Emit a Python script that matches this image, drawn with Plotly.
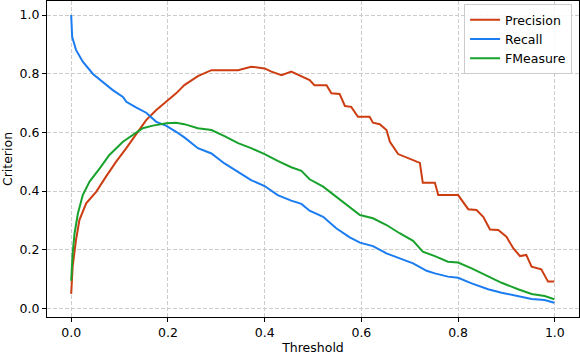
import plotly.graph_objects as go

# ---- data ----
recall_x = [0.0, 0.002, 0.010, 0.024, 0.045, 0.065, 0.086, 0.107, 0.114, 0.134, 0.155, 0.176, 0.197, 0.217, 0.234,
            0.262, 0.290, 0.317, 0.345, 0.372, 0.400, 0.427, 0.455, 0.476, 0.493, 0.521, 0.548, 0.576, 0.597, 0.624,
            0.652, 0.679, 0.707, 0.735, 0.752, 0.779, 0.800, 0.828, 0.862, 0.890, 0.924, 0.952, 0.979, 0.999]
recall_y = [1.0, 0.926, 0.881, 0.841, 0.799, 0.773, 0.744, 0.721, 0.704, 0.685, 0.667, 0.636, 0.622, 0.602, 0.583,
            0.546, 0.528, 0.494, 0.466, 0.437, 0.417, 0.386, 0.367, 0.356, 0.333, 0.312, 0.273, 0.242, 0.224, 0.212,
            0.187, 0.170, 0.153, 0.128, 0.119, 0.108, 0.104, 0.085, 0.065, 0.053, 0.042, 0.032, 0.028, 0.019]

fm_x = [0.0, 0.003, 0.007, 0.014, 0.024, 0.038, 0.059, 0.079, 0.107, 0.127, 0.148, 0.169, 0.197, 0.217, 0.234,
        0.262, 0.290, 0.317, 0.345, 0.372, 0.400, 0.427, 0.455, 0.476, 0.493, 0.521, 0.548, 0.576, 0.597, 0.624,
        0.652, 0.679, 0.707, 0.727, 0.752, 0.779, 0.800, 0.828, 0.862, 0.890, 0.924, 0.952, 0.979, 0.999]
fm_y = [0.094, 0.187, 0.256, 0.324, 0.386, 0.432, 0.477, 0.523, 0.568, 0.591, 0.614, 0.623, 0.631, 0.633, 0.628,
        0.614, 0.608, 0.587, 0.563, 0.546, 0.526, 0.503, 0.481, 0.469, 0.440, 0.415, 0.381, 0.346, 0.318, 0.307,
        0.284, 0.256, 0.230, 0.193, 0.178, 0.159, 0.156, 0.136, 0.108, 0.087, 0.065, 0.049, 0.042, 0.031]

prec_x = [0.0, 0.003, 0.010, 0.017, 0.031, 0.052, 0.072, 0.093, 0.114, 0.134, 0.155, 0.176, 0.197, 0.217, 0.234,
          0.262, 0.290, 0.317, 0.345, 0.372, 0.400, 0.414, 0.435, 0.455, 0.476, 0.493, 0.503, 0.528, 0.538, 0.555,
          0.566, 0.579, 0.593, 0.617, 0.624, 0.638, 0.652, 0.659, 0.676, 0.693, 0.721, 0.727, 0.752, 0.759, 0.800,
          0.821, 0.838, 0.852, 0.866, 0.883, 0.900, 0.914, 0.928, 0.941, 0.952, 0.972, 0.986, 0.999]
prec_y = [0.049, 0.142, 0.233, 0.301, 0.358, 0.398, 0.449, 0.500, 0.546, 0.591, 0.642, 0.676, 0.704, 0.733, 0.761,
          0.792, 0.812, 0.812, 0.812, 0.824, 0.818, 0.807, 0.795, 0.807, 0.792, 0.778, 0.761, 0.761, 0.733, 0.731,
          0.690, 0.687, 0.653, 0.653, 0.633, 0.628, 0.608, 0.568, 0.526, 0.515, 0.496, 0.428, 0.428, 0.386, 0.386,
          0.338, 0.335, 0.312, 0.269, 0.267, 0.244, 0.205, 0.178, 0.182, 0.142, 0.133, 0.091, 0.091]

tick_vals = [0.0, 0.2, 0.4, 0.6, 0.8, 1.0]
tick_text = ["0.0", "0.2", "0.4", "0.6", "0.8", "1.0"]

FONT = "DejaVu Sans"

fig = go.Figure()
fig.add_trace(go.Scatter(x=prec_x, y=prec_y, mode="lines", name="Precision",
                         line=dict(color="#cc3d11", width=2)))
fig.add_trace(go.Scatter(x=recall_x, y=recall_y, mode="lines", name="Recall",
                         line=dict(color="#1a7cf0", width=2)))
fig.add_trace(go.Scatter(x=fm_x, y=fm_y, mode="lines", name="FMeasure",
                         line=dict(color="#18a22c", width=2)))

axis_common = dict(
    showline=True, linecolor="black", linewidth=1, mirror=True,
    ticks="outside", ticklen=4, tickcolor="black", tickwidth=1,
    showgrid=True, gridcolor="#cccccc", griddash="4px,2px", gridwidth=1,
    zeroline=False, tickfont=dict(family=FONT, size=12.5, color="black"),
    tickvals=tick_vals, ticktext=tick_text, automargin=False,
)

fig.update_layout(
    width=580, height=356,
    margin=dict(l=47, r=1, t=1, b=39, autoexpand=False),
    paper_bgcolor="white", plot_bgcolor="white",
    font=dict(family=FONT, size=12.5, color="black"),
    xaxis=dict(range=[-0.05, 1.05],
               title=dict(text="Threshold", font=dict(family=FONT, size=12.5), standoff=4),
               **axis_common),
    yaxis=dict(range=[-0.0297, 1.048],
               title=dict(text="Criterion", font=dict(family=FONT, size=12.5), standoff=6),
               **axis_common),
    legend=dict(x=0.987, y=0.99, xanchor="right", yanchor="top",
                bgcolor="rgba(255,255,255,0.85)", bordercolor="#cccccc", borderwidth=1,
                font=dict(family=FONT, size=12.5), tracegroupgap=0,
                itemwidth=30),
    showlegend=True,
)

fig.write_html("out.html", config={"displayModeBar": False},
               post_script="document.body.style.margin='0';document.body.style.overflow='hidden';")
